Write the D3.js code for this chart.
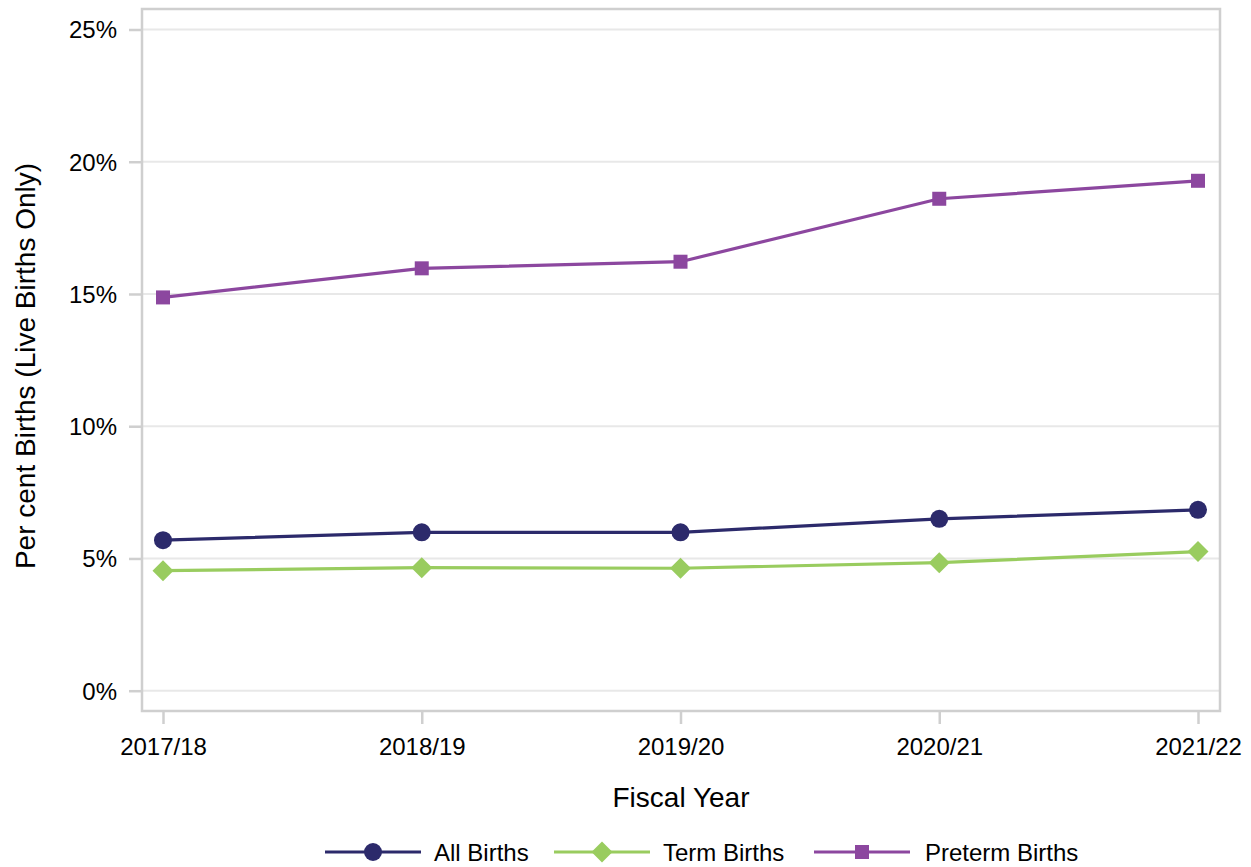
<!DOCTYPE html>
<html>
<head>
<meta charset="utf-8">
<script src="https://cdn.jsdelivr.net/npm/d3@7"></script>
<style>
  html, body { margin: 0; padding: 0; background: #fff; }
  svg { display: block; font-family: "Liberation Sans", Arial, sans-serif; }
</style>
</head>
<body>
<svg id="chart" width="1251" height="867"></svg>
<script>
const categories = ["2017/18", "2018/19", "2019/20", "2020/21", "2021/22"];
const allBirths = [5.69, 5.99, 5.99, 6.50, 6.84];
const termBirths = [4.54, 4.65, 4.63, 4.84, 5.26];
const pretermBirths = [14.87, 15.97, 16.22, 18.60, 19.28];
const yTicks = [0, 5, 10, 15, 20, 25];
const seriesNames = ["All Births", "Term Births", "Preterm Births"];
const seriesColors = ["#2c2a6b", "#99cc5f", "#8c479f"];
const seriesShapes = ["circle", "diamond", "square"];
const seriesValues = [allBirths, termBirths, pretermBirths];

const svg = d3.select("#chart");
const frame = { left: 142, right: 1220, top: 9, bottom: 711 };

const x = d3.scalePoint().domain(categories).range([163, 1198]);
const y = d3.scaleLinear().domain([0, 25]).range([690.7, 29.5]);

// gridlines
svg.append("g").selectAll("line").data(yTicks).join("line")
  .attr("x1", frame.left).attr("x2", frame.right)
  .attr("y1", d => y(d)).attr("y2", d => y(d))
  .attr("stroke", "#e8e8e8").attr("stroke-width", 2);

// frame
svg.append("rect")
  .attr("x", frame.left).attr("y", frame.top)
  .attr("width", frame.right - frame.left).attr("height", frame.bottom - frame.top)
  .attr("fill", "none").attr("stroke", "#cfcfcf").attr("stroke-width", 2.5);

// y axis
const yAxis = d3.axisLeft(y).tickValues(yTicks).tickFormat(d => d + "%").tickSize(12).tickPadding(12);
const gy = svg.append("g").attr("transform", `translate(${frame.left - 1},0)`).call(yAxis);
gy.select(".domain").remove();
gy.selectAll(".tick line").attr("stroke", "#cfcfcf").attr("stroke-width", 2.5);
gy.selectAll(".tick text").attr("font-size", 24).attr("fill", "#000").attr("dy", "0.35em");

// x axis
const xAxis = d3.axisBottom(x).tickSize(12).tickPadding(14);
const gx = svg.append("g").attr("transform", `translate(0,${frame.bottom + 1})`).call(xAxis);
gx.select(".domain").remove();
gx.selectAll(".tick line").attr("stroke", "#cfcfcf").attr("stroke-width", 2.5);
gx.selectAll(".tick text").attr("font-size", 24).attr("fill", "#000");

// axis titles
svg.append("text").attr("x", 681).attr("y", 807).attr("text-anchor", "middle")
  .attr("font-size", 28).attr("fill", "#000").text("Fiscal Year");
svg.append("text").attr("transform", "translate(35,366) rotate(-90)").attr("text-anchor", "middle")
  .attr("font-size", 28).attr("fill", "#000").text("Per cent Births (Live Births Only)");

function drawMarker(g, shape, cx, cy, color) {
  if (shape === "circle") {
    g.append("circle").attr("cx", cx).attr("cy", cy).attr("r", 9).attr("fill", color);
  } else if (shape === "diamond") {
    const r = 10.5;
    g.append("path").attr("d", `M${cx},${cy - r}L${cx + r},${cy}L${cx},${cy + r}L${cx - r},${cy}Z`).attr("fill", color);
  } else {
    const s = 14;
    g.append("rect").attr("x", cx - s / 2).attr("y", cy - s / 2).attr("width", s).attr("height", s).attr("fill", color);
  }
}

const line = d3.line().x((d, i) => x(categories[i])).y(d => y(d));

seriesValues.forEach((vals, si) => {
  const g = svg.append("g");
  g.append("path").datum(vals).attr("d", line).attr("fill", "none")
    .attr("stroke", seriesColors[si]).attr("stroke-width", 3.2);
  vals.forEach((v, i) => drawMarker(g, seriesShapes[si], x(categories[i]), y(v), seriesColors[si]));
});

// legend
const legendY = 852;
const legendItems = [
  { lx: 325, tx: 434 },
  { lx: 554, tx: 663 },
  { lx: 814, tx: 925 }
];
seriesNames.forEach((name, si) => {
  const g = svg.append("g");
  const lx = legendItems[si].lx;
  g.append("line").attr("x1", lx).attr("x2", lx + 96).attr("y1", legendY).attr("y2", legendY)
    .attr("stroke", seriesColors[si]).attr("stroke-width", 3.2);
  drawMarker(g, seriesShapes[si], lx + 48, legendY, seriesColors[si]);
  g.append("text").attr("x", legendItems[si].tx).attr("y", legendY + 9)
    .attr("font-size", 24).attr("fill", "#000").text(name);
});
</script>
</body>
</html>
